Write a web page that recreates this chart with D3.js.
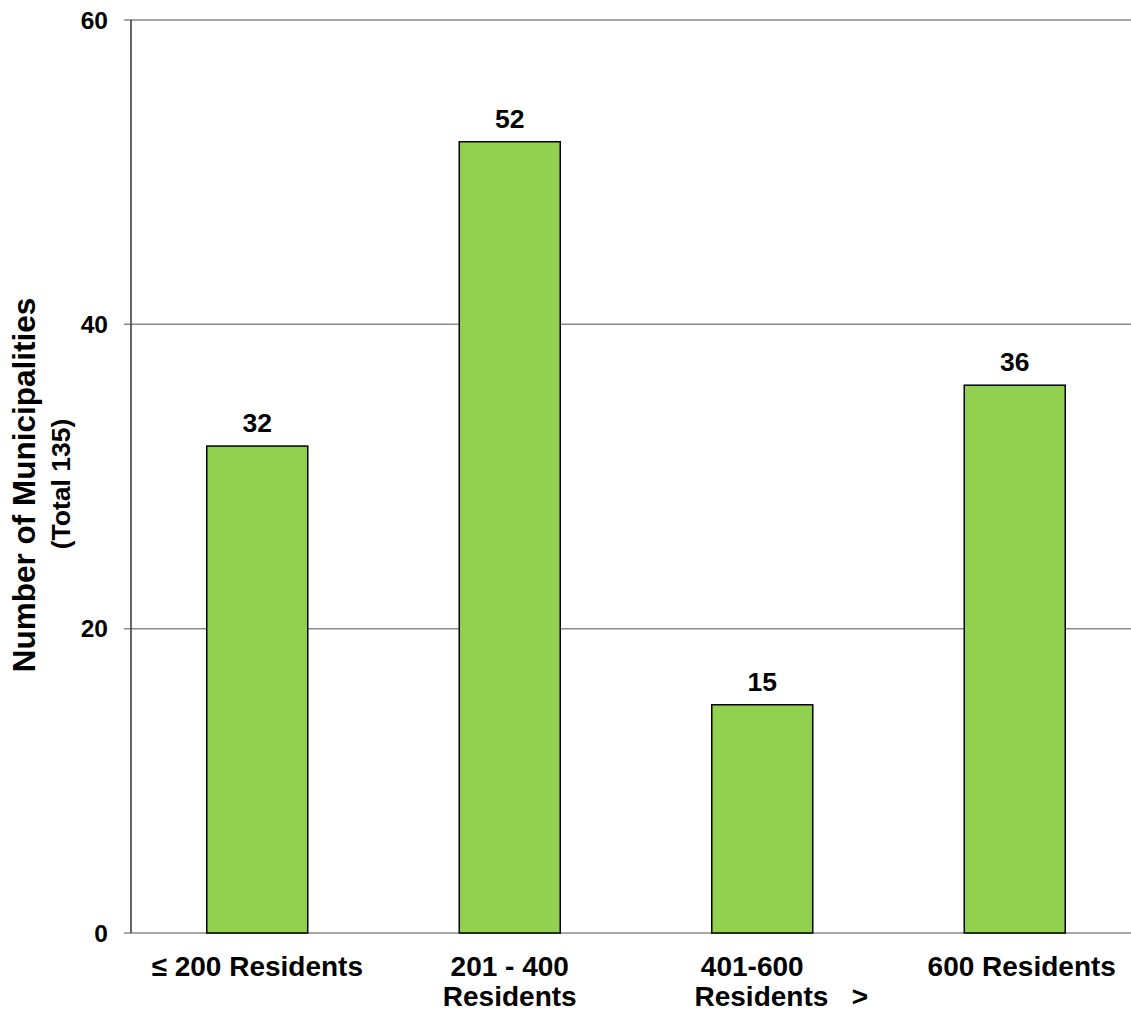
<!DOCTYPE html>
<html><head><meta charset="utf-8">
<script src="https://cdn.jsdelivr.net/npm/d3@7"></script>
<style>body{margin:0;background:#fff}svg{display:block}text{font-family:"Liberation Sans",Arial,sans-serif;font-weight:bold;fill:#000}</style>
</head><body><svg id="c" width="1131" height="1013"></svg>
<script>
const categories = ["≤ 200 Residents", "201 - 400 Residents", "401-600 Residents >", "600 Residents"];
const labelLines = [["≤ 200 Residents"], ["201 - 400", "Residents"], ["401-600", "Residents   >"], ["600 Residents"]];
const labelOffsets = [[0], [0, 0], [-10, 19], [7]];
const values = [32, 52, 15, 36];
const yTicks = [0, 20, 40, 60];
const yTitle = "Number of Municipalities";
const ySubtitle = "(Total 135)";

const svg = d3.select("#c");
const x = d3.scaleBand().domain(categories).range([131, 1141]).paddingInner(0.6).paddingOuter(0.3);
const y = d3.scaleLinear().domain([0, 60]).range([933, 20]);

// gridlines
svg.append("g").selectAll("line").data(yTicks.filter(d => d > 0)).join("line")
  .attr("x1", 124).attr("x2", 1141).attr("y1", d => y(d)).attr("y2", d => y(d))
  .attr("stroke", "#8a8a8a").attr("stroke-width", 1.5);
// bottom axis line
svg.append("line").attr("x1", 124).attr("x2", 1141).attr("y1", y(0)).attr("y2", y(0))
  .attr("stroke", "#8a8a8a").attr("stroke-width", 1.5);

// bars
svg.append("g").selectAll("rect").data(values).join("rect")
  .attr("x", (d, i) => x(categories[i])).attr("width", x.bandwidth())
  .attr("y", d => y(d)).attr("height", d => y(0) - y(d))
  .attr("fill", "#92D050").attr("stroke", "#000").attr("stroke-width", 1.5);

// y axis line
svg.append("line").attr("x1", 131).attr("x2", 131).attr("y1", y(60)).attr("y2", y(0))
  .attr("stroke", "#333").attr("stroke-width", 1.5);

// tick labels
svg.append("g").selectAll("text").data(yTicks).join("text")
  .attr("x", 108).attr("y", d => y(d)).attr("dy", "0.36em")
  .attr("text-anchor", "end").style("font-size", "24.5px").text(d => d);

// value labels
svg.append("g").selectAll("text").data(values).join("text")
  .attr("x", (d, i) => x(categories[i]) + x.bandwidth() / 2).attr("y", d => y(d) - 14)
  .attr("text-anchor", "middle").style("font-size", "26.5px").text(d => d);

// category labels
const cg = svg.append("g");
labelLines.forEach((lines, i) => {
  lines.forEach((ln, j) => {
    cg.append("text").attr("x", x(categories[i]) + x.bandwidth() / 2 + labelOffsets[i][j])
      .attr("y", 976 + j * 30).attr("text-anchor", "middle")
      .style("font-size", "28px").style("white-space", "pre").attr("xml:space", "preserve").text(ln);
  });
});

// y title
svg.append("text").attr("transform", "translate(35,485) rotate(-90)")
  .attr("text-anchor", "middle").style("font-size", "31.5px").text(yTitle);
svg.append("text").attr("transform", "translate(70,484) rotate(-90)")
  .attr("text-anchor", "middle").style("font-size", "26.5px").text(ySubtitle);
</script></body></html>
